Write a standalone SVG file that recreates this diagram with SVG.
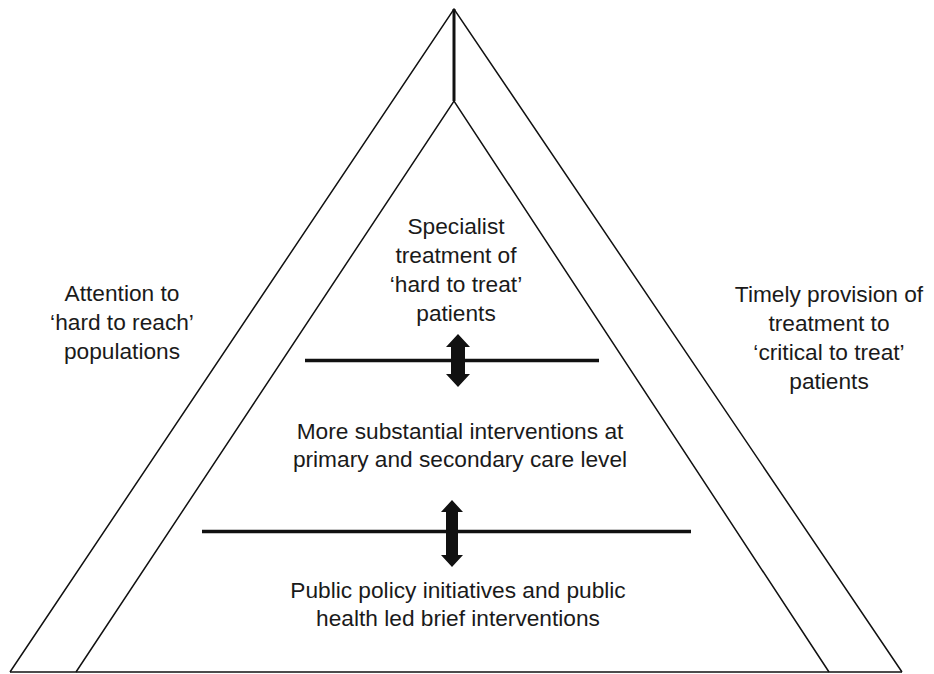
<svg xmlns="http://www.w3.org/2000/svg" width="934" height="674" viewBox="0 0 934 674">
<style>
.edge{fill:none;stroke:#111;stroke-width:1.5;stroke-linejoin:miter}
.bar{stroke:#111;stroke-width:3.5}
.arrow{fill:#111}
text{font-family:"Liberation Sans",Arial,sans-serif;font-size:22.7px;fill:#1a1a1a;text-anchor:middle}
</style>
<rect width="934" height="674" fill="#fff"/>
<g id="pyramid">
<polyline class="edge" points="10,672 454,9 902,672"/>
<polyline class="edge" points="76,672 454,101 829,672"/>
<line class="edge" x1="10" y1="672" x2="902" y2="672"/>
<line x1="454" y1="9" x2="454" y2="101" stroke="#111" stroke-width="3"/>
</g>
<g id="connectors">
<line class="bar" x1="305" y1="360.5" x2="599" y2="360.5"/>
<line class="bar" x1="202" y1="531.5" x2="691" y2="531.5"/>
<polygon class="arrow" points="458,334 470,347 465,347 465,374 470,374 458,387 446,374 451,374 451,347 446,347"/>
<polygon class="arrow" points="452,500 463,512 458,512 458,555 463,555 452,567 441,555 446,555 446,512 441,512"/>
</g>
<g id="left-label">
<text x="122" y="301">Attention to</text>
<text x="122" y="330">‘hard to reach’</text>
<text x="122" y="359">populations</text>
</g>
<g id="right-label">
<text x="829" y="302">Timely provision of</text>
<text x="829" y="331">treatment to</text>
<text x="829" y="360">‘critical to treat’</text>
<text x="829" y="389">patients</text>
</g>
<g id="top-tier">
<text x="456" y="234">Specialist</text>
<text x="456" y="263">treatment of</text>
<text x="456" y="292">‘hard to treat’</text>
<text x="456" y="321">patients</text>
</g>
<g id="middle-tier">
<text x="460" y="439">More substantial interventions at</text>
<text x="460" y="467">primary and secondary care level</text>
</g>
<g id="bottom-tier">
<text x="458" y="598">Public policy initiatives and public</text>
<text x="458" y="626">health led brief interventions</text>
</g>
</svg>
